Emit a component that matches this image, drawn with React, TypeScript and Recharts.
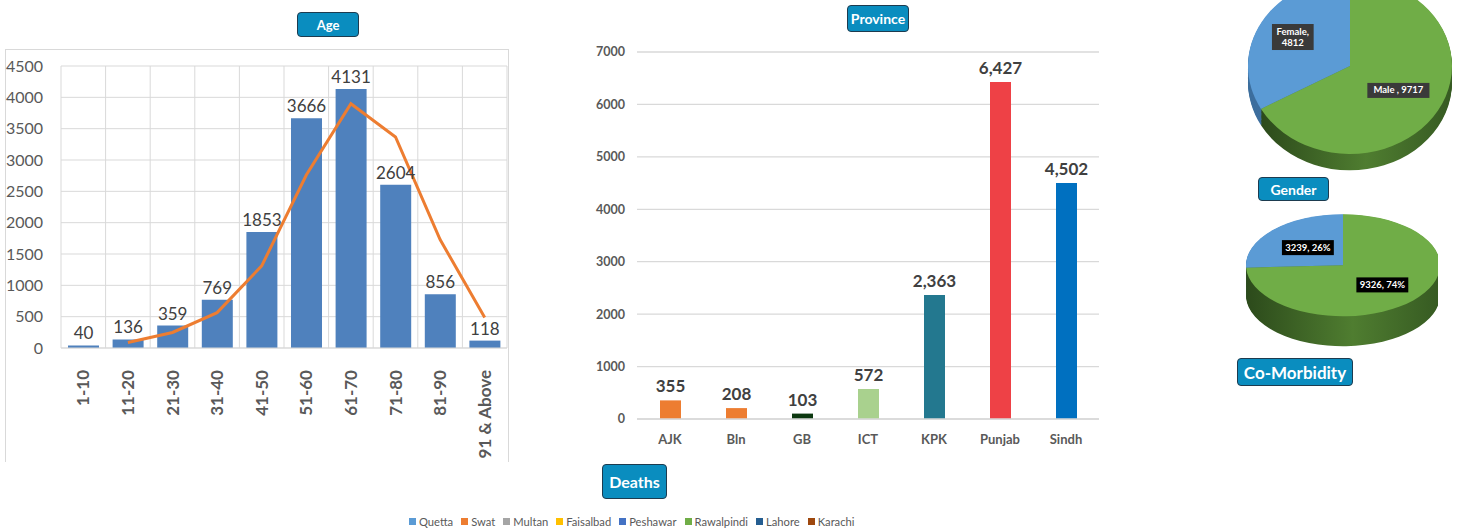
import React from 'react';
import {
  ComposedChart, BarChart, PieChart, Bar, Line, Pie, Cell, XAxis, YAxis,
  CartesianGrid, LabelList,
} from 'recharts';

// ---- data ----
const ageGroups = ['1-10', '11-20', '21-30', '31-40', '41-50', '51-60', '61-70', '71-80', '81-90', '91 & Above'];
const ageDeaths = [40, 136, 359, 769, 1853, 3666, 4131, 2604, 856, 118];
const ageTrend = [null, 88, 248, 564, 1311, 2760, 3898, 3368, 1730, 487];
const ageTicks = [0, 500, 1000, 1500, 2000, 2500, 3000, 3500, 4000, 4500];

const provinces = ['AJK', 'Bln', 'GB', 'ICT', 'KPK', 'Punjab', 'Sindh'];
const provinceDeaths = [355, 208, 103, 572, 2363, 6427, 4502];
const provinceColors = ['#ED7D31', '#ED7D31', '#0C3810', '#A9D18E', '#23788F', '#EE4146', '#0070C0'];
const provinceTicks = [0, 1000, 2000, 3000, 4000, 5000, 6000, 7000];

const genderNames = ['Female', 'Male '];
const genderValues = [4812, 9717];

const comorbNames = ['Without', 'With'];
const comorbValues = [3239, 9326];

const legendNames = ['Quetta', 'Swat', 'Multan', 'Faisalbad', 'Peshawar', 'Rawalpindi', 'Lahore', 'Karachi'];
const legendColors = ['#5B9BD5', '#ED7D31', '#A5A5A5', '#FFC000', '#4472C4', '#70AD47', '#255E91', '#9E480E'];

const ageData = ageGroups.map((group, i) => ({ group, deaths: ageDeaths[i], trend: ageTrend[i] }));
const provinceData = provinces.map((name, i) => ({ name, deaths: provinceDeaths[i] }));
const genderData = genderNames.map((name, i) => ({ name, value: genderValues[i] }));
const comorbData = comorbNames.map((name, i) => ({ name, value: comorbValues[i] }));

const FONT = 'Lato, "Open Sans", sans-serif';

const Tag = ({ text, left, top, width, height, fontSize }: any) => (
  <div
    style={{
      position: 'absolute', left, top, width, height, boxSizing: 'border-box',
      background: '#0A8DBF', border: '1px solid #1D3B4F', borderRadius: 4,
      color: '#fff', fontWeight: 700, fontSize, display: 'flex',
      alignItems: 'center', justifyContent: 'center',
    }}
  >
    {text}
  </div>
);

const AgeTick = ({ x, y, payload }: any) => (
  <g transform={`translate(${x},${y + 14})`}>
    <text transform="rotate(-90)" textAnchor="end" dy="0.36em" fill="#595959" fontSize={17} fontWeight={700}>
      {payload.value}
    </text>
  </g>
);

const ageGridX = (props: any) => {
  const o = props && props.offset;
  const left = o ? o.left : 61;
  const w = o ? o.width : 446;
  return ageGroups.map((_, i) => left + (i * w) / ageGroups.length).concat(left + w);
};

const pieLabel = (lines: (i: number, pct: number) => string[], s: number, rf: number[], bg: string) => (p: any) => {
  const RAD = Math.PI / 180;
  const r = p.outerRadius * rf[p.index];
  const x = p.cx + r * Math.cos(-p.midAngle * RAD);
  const y = p.cy + r * Math.sin(-p.midAngle * RAD);
  const ls = lines(p.index, p.percent);
  const w = Math.max(...ls.map((l) => l.length)) * 5.1 + 6;
  const h = ls.length * 11 + 4;
  return (
    <g transform={`translate(${x},${y}) scale(1,${1 / s})`}>
      <rect x={-w / 2} y={-h / 2} width={w} height={h} fill={bg} />
      {ls.map((l, k) => (
        <text key={k} x={0} y={-h / 2 + 10.5 + 11 * k} textAnchor="middle" fill="#fff" fontSize={9.5} fontWeight={700}>
          {l}
        </text>
      ))}
    </g>
  );
};

// 3D-ish pie: a stack of darker copies below the top face, squashed with scaleY
const Pie3D = ({ data, left, top, r, s, depth, step, cx, cy, w, h, topColors, sideFills, label }: any) => {
  const layers = Array.from({ length: Math.ceil(depth / step) }, (_, i) => depth - i * step);
  return (
    <div style={{ position: 'absolute', left, top, transform: `scaleY(${s})`, transformOrigin: 'top left' }}>
      <PieChart width={w} height={h}>
        <defs>
          <linearGradient id="sideGreen" x1="0" y1="0" x2="1" y2="0">
            <stop offset="0%" stopColor="#2C4A1B" />
            <stop offset="55%" stopColor="#4F7D30" />
            <stop offset="100%" stopColor="#365A22" />
          </linearGradient>
        </defs>
        {layers.map((d) => (
          <Pie
            key={d}
            data={data}
            dataKey="value"
            cx={cx}
            cy={cy + d}
            outerRadius={r}
            startAngle={90}
            endAngle={450}
            isAnimationActive={false}
            stroke="none"
          >
            {data.map((_: any, i: number) => <Cell key={i} fill={sideFills[i]} stroke="none" />)}
          </Pie>
        ))}
        <Pie
          data={data}
          dataKey="value"
          cx={cx}
          cy={cy}
          outerRadius={r}
          startAngle={90}
          endAngle={450}
          isAnimationActive={false}
          stroke="none"
          labelLine={false}
          label={label}
        >
          {data.map((_: any, i: number) => <Cell key={i} fill={topColors[i]} stroke="none" />)}
        </Pie>
      </PieChart>
    </div>
  );
};

export default function App() {
  const gS = 88 / 102;
  const cS = 51 / 97;
  return (
    <div
      style={{
        position: 'absolute', left: 0, top: 0, width: 1465, height: 530,
        overflow: 'hidden', background: '#fff', fontFamily: FONT,
      }}
    >
      {/* Age */}
      <div
        style={{
          position: 'absolute', left: 5, top: 49, width: 504, height: 413, boxSizing: 'border-box',
          borderTop: '1px solid #D9D9D9', borderLeft: '1px solid #D9D9D9', borderRight: '1px solid #D9D9D9',
        }}
      />
      <div style={{ position: 'absolute', left: 0, top: 40 }}>
        <ComposedChart width={510} height={422} data={ageData} margin={{ top: 26, right: 3, left: 5, bottom: 0 }}>
          <CartesianGrid stroke="#D9D9D9" verticalCoordinatesGenerator={ageGridX} />
          <XAxis dataKey="group" interval={0} tickLine={false} axisLine={{ stroke: '#D9D9D9' }} tick={<AgeTick />} height={114} />
          <YAxis
            domain={[0, 4500]}
            ticks={ageTicks}
            tickLine={false}
            axisLine={false}
            width={56}
            tickMargin={12}
            tick={{ fill: '#595959', fontSize: 16 }}
          />
          <Bar dataKey="deaths" fill="#4F81BD" barSize={31} isAnimationActive={false}>
            <LabelList dataKey="deaths" position="top" offset={6} fill="#404040" fontSize={17} />
          </Bar>
          <Line dataKey="trend" type="linear" stroke="#ED7D31" strokeWidth={3} dot={false} isAnimationActive={false} />
        </ComposedChart>
      </div>
      <Tag text="Age" left={297} top={12} width={62} height={25} fontSize={13} />

      {/* Province */}
      <div style={{ position: 'absolute', left: 590, top: 30 }}>
        <BarChart width={520} height={430} data={provinceData} margin={{ top: 22, right: 11, left: 0, bottom: 0 }}>
          <CartesianGrid stroke="#D9D9D9" strokeWidth={1.3} vertical={false} />
          <XAxis
            dataKey="name"
            interval={0}
            tickLine={false}
            axisLine={{ stroke: '#D9D9D9', strokeWidth: 1.3 }}
            height={41}
            tickMargin={10}
            tick={{ fill: '#595959', fontSize: 13, fontWeight: 700 }}
          />
          <YAxis
            domain={[0, 7000]}
            ticks={provinceTicks}
            tickLine={false}
            axisLine={false}
            width={47}
            tickMargin={6}
            tick={{ fill: '#595959', fontSize: 12.5, fontWeight: 700 }}
          />
          <Bar dataKey="deaths" barSize={21} isAnimationActive={false}>
            {provinceData.map((_, i) => <Cell key={i} fill={provinceColors[i]} />)}
            <LabelList
              dataKey="deaths"
              position="top"
              offset={8}
              fill="#404040"
              fontSize={17}
              fontWeight={700}
              formatter={(v: any) => Number(v).toLocaleString('en-US')}
            />
          </Bar>
        </BarChart>
      </div>
      <Tag text="Province" left={847} top={5} width={62} height={27} fontSize={14} />

      {/* Gender */}
      <Pie3D
        data={genderData}
        left={1235}
        top={62 - 112 * gS}
        r={102}
        s={gS}
        depth={19}
        step={1.5}
        cx={110}
        cy={112}
        w={220}
        h={240}
        topColors={['#5B9BD5', '#70AD47']}
        sideFills={['#3E6F9E', 'url(#sideGreen)']}
        label={pieLabel(
          (i) => (i === 0 ? [`${genderNames[i]},`, `${genderValues[i]}`] : [`${genderNames[i]}, ${genderValues[i]}`]),
          gS,
          [0.65, 0.55],
          '#3A3A3A',
        )}
      />
      <Tag text="Gender" left={1258} top={177} width={71} height={24} fontSize={14} />

      {/* Co-Morbidity */}
      <Pie3D
        data={comorbData}
        left={1238}
        top={263 - 100 * cS}
        r={97}
        s={cS}
        depth={57}
        step={2}
        cx={100}
        cy={100}
        w={200}
        h={270}
        topColors={['#5B9BD5', '#70AD47']}
        sideFills={['#3E6F9E', 'url(#sideGreen)']}
        label={pieLabel(
          (i, pct) => [`${comorbValues[i]}, ${Math.round(pct * 100)}%`],
          cS,
          [0.5, 0.56],
          '#000',
        )}
      />
      <Tag text="Co-Morbidity" left={1237} top={358} width={116} height={28} fontSize={17} />

      {/* Deaths */}
      <Tag text="Deaths" left={602} top={464} width={65} height={35} fontSize={16} />
      <div
        style={{
          position: 'absolute', left: 409, top: 513, height: 16, display: 'flex', alignItems: 'center',
          gap: 8, fontSize: 11.2, color: '#595959',
        }}
      >
        {legendNames.map((n, i) => (
          <div key={n} style={{ display: 'flex', alignItems: 'center', gap: 3 }}>
            <span style={{ width: 7, height: 7, background: legendColors[i], display: 'inline-block' }} />
            <span>{n}</span>
          </div>
        ))}
      </div>
    </div>
  );
}
